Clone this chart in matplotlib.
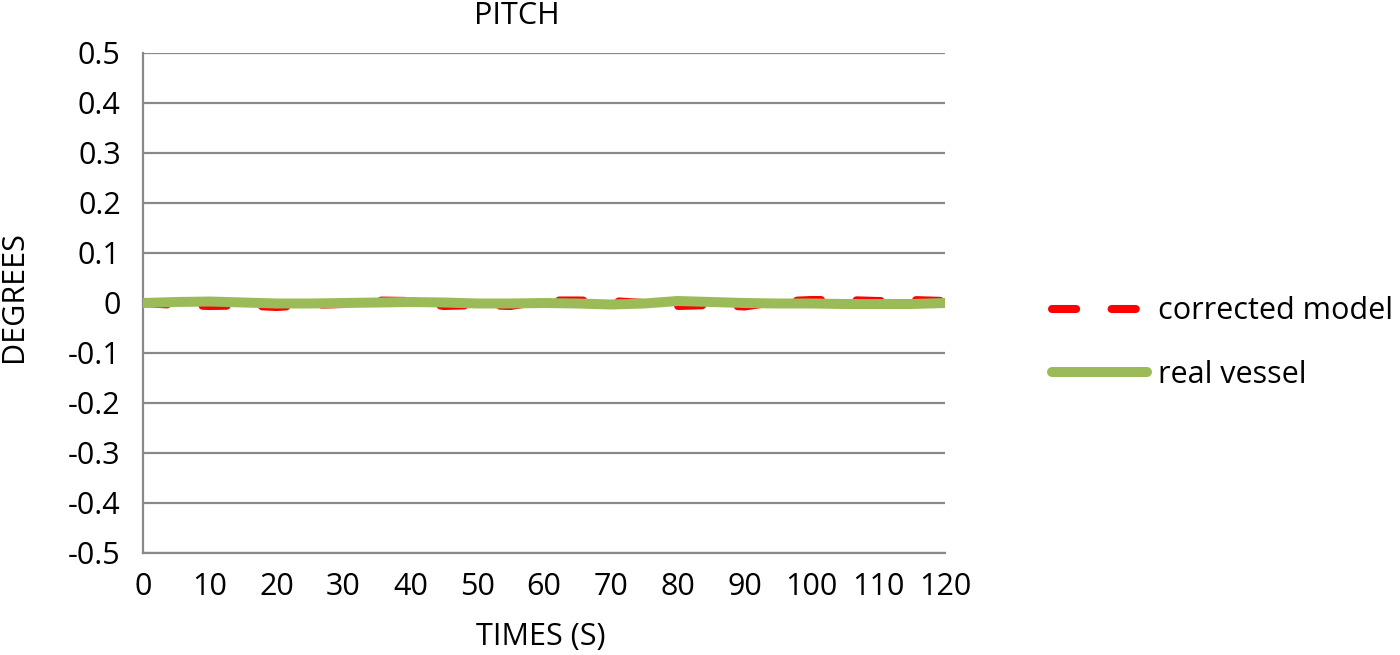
import matplotlib.pyplot as plt
from matplotlib.ticker import FuncFormatter, MultipleLocator

plt.rcParams['font.family'] = ['Open Sans', 'DejaVu Sans']
plt.rcParams['axes.unicode_minus'] = False

# pitch angle, every 5 s
times = [0, 5, 10, 15, 20, 25, 30, 35, 40, 45, 50, 55, 60,
         65, 70, 75, 80, 85, 90, 95, 100, 105, 110, 115, 120]
corrected_model = [0.0, -0.004, -0.006, -0.005, -0.008, -0.004, -0.002, 0.005, 0.004,
                   -0.006, -0.004, -0.006, 0.005, 0.005, 0.004, 0.0, -0.006, -0.004,
                   -0.007, 0.003, 0.006, 0.006, 0.004, 0.006, 0.004]
real_vessel = [0.0, 0.002, 0.003, 0.001, -0.001, -0.001, 0.0, 0.001, 0.002, 0.001,
               -0.001, -0.001, 0.0, -0.001, -0.003, -0.001, 0.004, 0.002, 0.0, -0.001,
               -0.001, -0.002, -0.002, -0.002, 0.0]
series_labels = ['corrected model', 'real vessel']

grey = '#898989'
fs = 22

fig = plt.figure(figsize=(14, 6.55), dpi=100)
ax = fig.add_axes([143 / 1400, 102 / 655, 802 / 1400, 500 / 655])

ax.plot(times, corrected_model, color='#ff0000', lw=5.8, dashes=(3, 4.4),
        dash_capstyle='round', label=series_labels[0], zorder=3)
ax.plot(times, real_vessel, color='#9bbb59', lw=7.2, solid_capstyle='round',
        label=series_labels[1], zorder=4)

ax.set_xlim(0, 120)
ax.set_ylim(-0.5, 0.5)
ax.xaxis.set_major_locator(MultipleLocator(10))
ax.yaxis.set_major_locator(MultipleLocator(0.1))
ax.yaxis.set_major_formatter(FuncFormatter(lambda v, p: f'{round(v, 1):g}'))
ax.tick_params(length=0, labelsize=fs)
ax.tick_params(axis='y', pad=16)
ax.tick_params(axis='x', pad=14)

ax.grid(axis='y', color=grey, lw=1.6)
ax.set_axisbelow(True)
for s in ['top', 'right']:
    ax.spines[s].set_visible(False)
for s in ['left', 'bottom']:
    ax.spines[s].set_color(grey)
    ax.spines[s].set_linewidth(1.6)

ax.set_xlabel('TIMES (S)', fontsize=fs)
ax.xaxis.set_label_coords(0.496, -0.138)
ax.set_ylabel('DEGREES', fontsize=fs)
ax.yaxis.set_label_coords(-0.142, 0.512)
ax.text(0.466, 1.074, 'PITCH', transform=ax.transAxes, ha='center', va='center',
        fontsize=fs)

fig.legend(loc='center left', bbox_to_anchor=(1040 / 1400, 1 - 343 / 655),
           frameon=False, fontsize=fs, handlelength=3.1, handletextpad=0.35,
           labelspacing=1.1, borderaxespad=0)

fig.savefig('out.png', dpi=100)
